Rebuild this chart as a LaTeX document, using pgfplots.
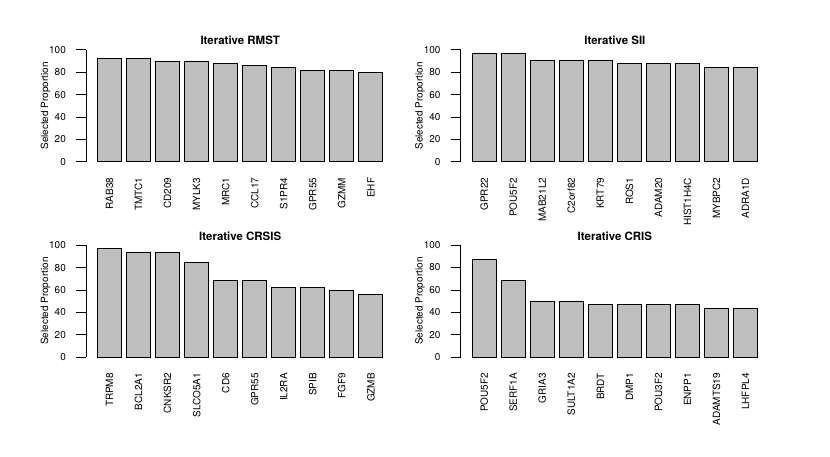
\documentclass[border=0pt]{standalone}
\usepackage{fontspec}
\setmainfont{TeX Gyre Heros}
\usepackage{pgfplots}
\pgfplotsset{compat=1.18}
\definecolor{bargray}{HTML}{BEBEBE}
\pgfplotsset{rpanel/.style={
  scale only axis, width=308.4bp, height=120.8bp,
  xmin=-0.272, xmax=12.472, ymin=-4, ymax=104,
  xtick={0.7,1.9,3.1,4.3,5.5,6.7,7.9,9.1,10.3,11.5},
  ytick={0,20,40,60,80,100},
  axis line style={draw=none},
  xtick style={draw=none},
  ytick pos=left,
  tick align=outside,
  major tick length=10bp,
  ytick style={black, line width=0.8bp},
  /pgf/number format/assume math mode=true,
  tick label style={font=\fontsize{10}{11}\selectfont},
  yticklabel style={anchor=east, inner sep=0pt},
  yticklabel shift=10bp,
  xticklabel style={rotate=90, anchor=east, inner sep=0pt},
  xticklabel shift=1.5bp,
  every axis title shift=0pt,
  title style={font=\bfseries\fontsize{11.5}{12}\selectfont, at={(axis description cs:0.5,1)}, anchor=base, yshift=0.5bp, inner sep=0pt},
  ylabel style={font=\fontsize{10}{11}\selectfont, at={(axis description cs:-0.1232,0.5)}, anchor=base, inner sep=0pt},
  ylabel={Selected Proportion},
  clip=false,
}}
\tikzset{rbar/.style={ybar, bar width=1, fill=bargray, draw=black, line width=1bp, mark=none}}
\begin{document}
\begin{tikzpicture}
\useasboundingbox (0,0) rectangle (830bp,457bp);
% Top left
\begin{axis}[rpanel, at={(86bp,290.8bp)}, anchor=south west,
  title={Iterative RMST},
  xticklabels={RAB38,TMTC1,CD209,MYLK3,MRC1,CCL17,S1PR4,GPR55,GZMM,EHF}]
\addplot[rbar] coordinates {(0.7,92) (1.9,92) (3.1,90) (4.3,90) (5.5,88) (6.7,86) (7.9,84) (9.1,82) (10.3,82) (11.5,80)};
\draw[line width=0.8bp] (axis cs:-0.272,0) -- (axis cs:-0.272,100);
\end{axis}
% Top right
\begin{axis}[rpanel, at={(460.7bp,290.8bp)}, anchor=south west,
  title={Iterative SII},
  xticklabels={GPR22,POU5F2,MAB21L2,C2orf82,KRT79,ROS1,ADAM20,HIST1H4C,MYBPC2,ADRA1D}]
\addplot[rbar] coordinates {(0.7,96.875) (1.9,96.875) (3.1,90.625) (4.3,90.625) (5.5,90.625) (6.7,87.5) (7.9,87.5) (9.1,87.5) (10.3,84.375) (11.5,84.375)};
\draw[line width=0.8bp] (axis cs:-0.272,0) -- (axis cs:-0.272,100);
\end{axis}
% Bottom left
\begin{axis}[rpanel, at={(86bp,95.5bp)}, anchor=south west,
  title={Iterative CRSIS},
  xticklabels={TRPM8,BCL2A1,CNKSR2,SLCO5A1,CD6,GPR55,IL2RA,SPIB,FGF9,GZMB}]
\addplot[rbar] coordinates {(0.7,96.875) (1.9,93.75) (3.1,93.75) (4.3,84.375) (5.5,68.75) (6.7,68.75) (7.9,62.5) (9.1,62.5) (10.3,59.375) (11.5,56.25)};
\draw[line width=0.8bp] (axis cs:-0.272,0) -- (axis cs:-0.272,100);
\end{axis}
% Bottom right
\begin{axis}[rpanel, at={(460.7bp,95.5bp)}, anchor=south west,
  title={Iterative CRIS},
  xticklabels={POU5F2,SERF1A,GRIA3,SULT1A2,BRDT,DMP1,POU3F2,ENPP1,ADAMTS19,LHFPL4}]
\addplot[rbar] coordinates {(0.7,87.5) (1.9,68.75) (3.1,50) (4.3,50) (5.5,46.875) (6.7,46.875) (7.9,46.875) (9.1,46.875) (10.3,43.75) (11.5,43.75)};
\draw[line width=0.8bp] (axis cs:-0.272,0) -- (axis cs:-0.272,100);
\end{axis}
\end{tikzpicture}
\end{document}
